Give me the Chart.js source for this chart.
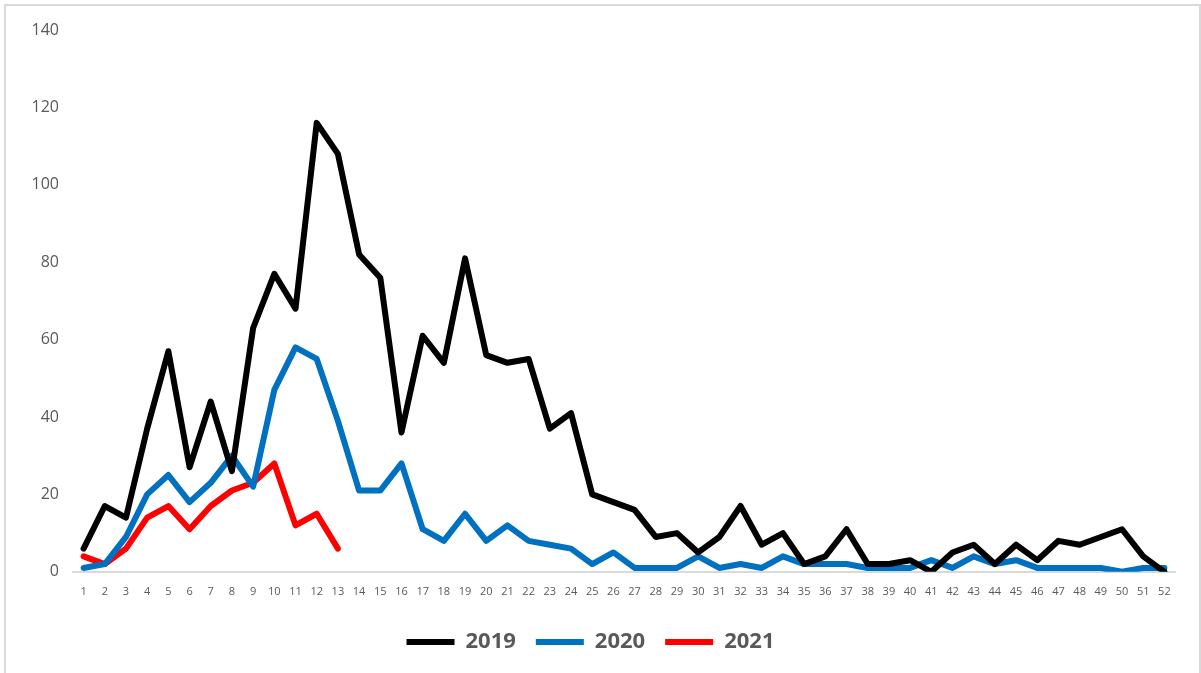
<!DOCTYPE html>
<html>
<head>
<meta charset="utf-8">
<script src="https://cdn.jsdelivr.net/npm/chart.js@4"></script>
<style>
  html, body { margin: 0; padding: 0; background: #fff; }
  #frame { position: absolute; left: 4px; top: 4px; width: 1193px; height: 700px; border: 2px solid #d9d9d9; }
  #wrap { position: absolute; left: 0; top: 0; width: 1201px; height: 673px; }
</style>
</head>
<body>
<div id="frame"></div>
<div id="wrap"><canvas id="c"></canvas></div>
<script>
const weeks = Array.from({length: 52}, (_, i) => String(i + 1));
const y2019 = [6,17,14,37,57,27,44,26,63,77,68,116,108,82,76,36,61,54,81,56,54,55,37,41,20,18,16,9,10,5,9,17,7,10,2,4,11,2,2,3,0,5,7,2,7,3,8,7,9,11,4,0];
const y2020 = [1,2,9,20,25,18,23,30,22,47,58,55,39,21,21,28,11,8,15,8,12,8,7,6,2,5,1,1,1,4,1,2,1,4,2,2,2,1,1,1,3,1,4,2,3,1,1,1,1,0,1,1];
const y2021 = [4,2,6,14,17,11,17,21,23,28,12,15,6];
const yTicks = [0,20,40,60,80,100,120,140];
const seriesNames = ['2019','2020','2021'];
const seriesColors = ['#000000','#0070C0','#FF0000'];

const textGray = '#595959';
const ds = [y2019, y2020, y2021].map((d, i) => ({
  label: seriesNames[i],
  data: d,
  borderColor: seriesColors[i],
  backgroundColor: seriesColors[i],
  borderWidth: 6,
  pointRadius: 0,
  tension: 0,
  borderJoinStyle: 'round',
  borderCapStyle: 'round',
  fill: false
}));

new Chart(document.getElementById('c'), {
  type: 'line',
  data: { labels: weeks, datasets: ds },
  options: {
    responsive: true,
    maintainAspectRatio: false,
    animation: false,
    layout: { padding: { left: 6, right: 26, top: 30, bottom: 10 } },
    plugins: {
      tooltip: { enabled: false },
      legend: {
        position: 'bottom',
        labels: {
          boxWidth: 48,
          boxHeight: 6,
          padding: 20,
          color: textGray,
          font: { family: 'Open Sans, sans-serif', size: 22, weight: 'bold' },
          generateLabels: (chart) => chart.data.datasets.map((d, i) => ({
            text: d.label,
            fillStyle: d.borderColor,
            strokeStyle: d.borderColor,
            lineWidth: 0,
            datasetIndex: i,
            fontColor: textGray
          }))
        }
      }
    },
    scales: {
      x: {
        offset: true,
        grid: { display: false, drawTicks: false },
        border: { display: true, color: '#d9d9d9', width: 2 },
        ticks: {
          color: textGray,
          font: { family: 'Open Sans, sans-serif', size: 11 },
          padding: 13,
          maxRotation: 0,
          autoSkip: false
        }
      },
      y: {
        min: 0,
        max: 140,
        afterBuildTicks: (s) => { s.ticks = yTicks.map(v => ({ value: v })); },
        afterFit: (s) => { s.width = 67; },
        grid: { display: false, drawTicks: false },
        border: { display: false },
        ticks: {
          color: textGray,
          font: { family: 'Open Sans, sans-serif', size: 16 },
          padding: 14
        }
      }
    }
  }
});
</script>
</body>
</html>
